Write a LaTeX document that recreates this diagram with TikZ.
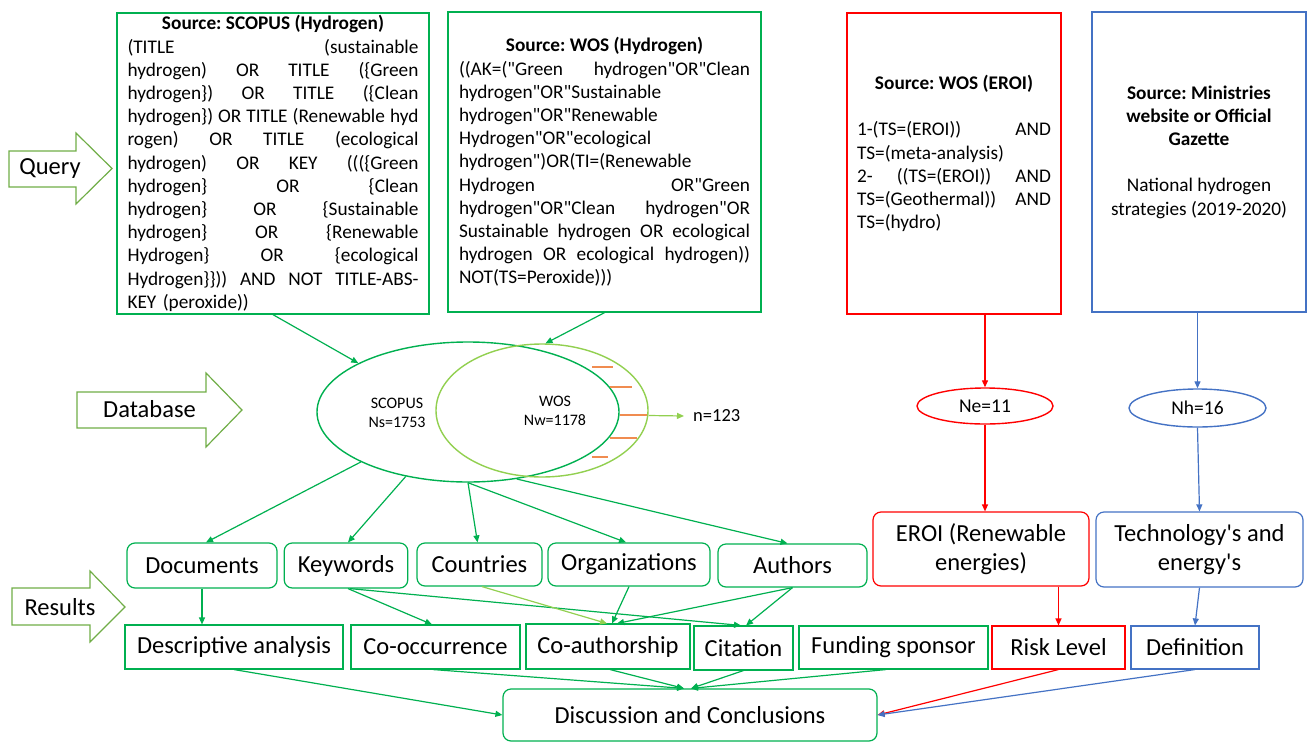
\documentclass[tikz,border=0pt]{standalone}
\usepackage{fontspec}
\setmainfont{Carlito}[Ligatures=TeXOff]
\usetikzlibrary{shapes.geometric,arrows.meta,calc}
\definecolor{gline}{RGB}{0,176,80}
\definecolor{lgreen}{RGB}{146,208,80}
\definecolor{agreen}{RGB}{112,173,71}
\definecolor{rline}{RGB}{255,0,0}
\definecolor{bline}{RGB}{68,114,196}
\definecolor{orng}{RGB}{240,140,80}
\newcommand\jl[1]{{\spaceskip=0pt\xspaceskip=0pt\makebox[\linewidth][s]{#1}}\\}
\newcommand\ctr[1]{{\spaceskip=0pt\xspaceskip=0pt\makebox[\linewidth]{#1}}\\}
\frenchspacing
\begin{document}
\begin{tikzpicture}[x=1pt,y=-1pt,
  body/.style={font=\fontsize{19.3}{23.2}\selectfont},
  lab/.style={font=\fontsize{24.5}{29.5}\selectfont},
  qbox/.style={draw=#1, line width=1.3pt, inner sep=0pt, body},
  gbox/.style={draw=gline, line width=1.2pt, rounded corners=8pt, inner sep=0pt, lab},
  gsq/.style={draw=gline, line width=1.1pt, inner sep=0pt, lab},
  ell/.style={ellipse, draw=#1, line width=1.4pt, inner sep=0pt},
  tipx/.style={-{Triangle[length=7pt,width=6pt]}},
  garr/.style={draw=gline, line width=1.2pt, tipx},
  larr/.style={draw=lgreen, line width=1.2pt, tipx},
  rarr/.style={draw=rline, line width=1.2pt, tipx},
  barr/.style={draw=bline, line width=1.2pt, tipx},
  blk/.style={draw=agreen, line width=1.2pt, line join=miter}
]
\useasboundingbox (0,0) rectangle (1307,742);

% ---- block arrows
\draw[blk] (9,151) -- (76,151) -- (76,133) -- (112,168.5) -- (76,204) -- (76,187) -- (9,187) -- cycle;
\node[lab] (qlab) at (50,169) {Query};
\draw[blk] (77,392) -- (206,392) -- (206,373) -- (242,410) -- (206,447) -- (206,428) -- (77,428) -- cycle;
\node[lab] (dlab) at (149.5,409) {Database};
\draw[blk] (12,588) -- (90,588) -- (90,571) -- (125,607) -- (90,642) -- (90,625) -- (12,625) -- cycle;
\node[lab] (rlab) at (60,607) {Results};

% ---- query boxes
\node[qbox=gline, minimum width=312, minimum height=301, text width=291pt] (scopq) at (273,163.5) {%
\ctr{\textbf{Source: SCOPUS (Hydrogen)}}
\jl{(TITLE (sustainable}
\jl{hydrogen) OR TITLE (\{Green}
\jl{hydrogen\}) OR TITLE (\{Clean}
\jl{hydrogen\}) OR TITLE (Renewable hyd}
\jl{rogen) OR TITLE (ecological}
\jl{hydrogen) OR KEY (((\{Green}
\jl{hydrogen\} OR \{Clean}
\jl{hydrogen\} OR \{Sustainable}
\jl{hydrogen\} OR \{Renewable}
\jl{Hydrogen\} OR \{ecological}
\jl{Hydrogen\}\})) AND NOT TITLE-ABS-}
KEY (peroxide))};

\node[qbox=gline, minimum width=313, minimum height=300, text width=291pt] (wosq) at (604.5,162) {%
\ctr{\textbf{Source: WOS (Hydrogen)}}
\jl{((AK=("Green hydrogen"OR"Clean}
hydrogen"OR"Sustainable\\
hydrogen"OR"Renewable\\
Hydrogen"OR"ecological\\
hydrogen")OR(TI=(Renewable\\
\jl{Hydrogen OR"Green}
\jl{hydrogen"OR"Clean hydrogen"OR}
\jl{Sustainable hydrogen OR ecological}
\jl{hydrogen OR ecological hydrogen))}
NOT(TS=Peroxide)))};

\node[qbox=rline, minimum width=214, minimum height=301, text width=194pt] (eroiq) at (954,163.5) {%
\ctr{\textbf{Source: WOS (EROI)}}
\mbox{}\\
\jl{1-(TS=(EROI)) AND}
TS=(meta-analysis)\\
\jl{2- ((TS=(EROI)) AND}
\jl{TS=(Geothermal)) AND}
TS=(hydro)\\
\mbox{}};

\node[qbox=bline, minimum width=214, minimum height=300, text width=210pt] (minq) at (1199,162) {%
\ctr{\textbf{Source: Ministries}}
\ctr{\textbf{website or Official}}
\ctr{\textbf{Gazette}}
\mbox{}\\
\ctr{National hydrogen}
\ctr{strategies (2019-2020)}
\mbox{}};

% ---- ellipses
\node[ell=gline, minimum width=302, minimum height=140] (scopE) at (468,412) {};
\node[ell=lgreen, minimum width=212, minimum height=133] (wosE) at (542,410.5) {};
\node[align=center, font=\fontsize{16}{19}\selectfont] (scopT) at (397,412.5) {SCOPUS\\Ns=1753};
\node[align=center, font=\fontsize{16}{19}\selectfont] (wosT) at (555,411) {WOS\\Nw=1178};
\node[anchor=west, inner sep=0pt, font=\fontsize{18.5}{22}\selectfont] (nT) at (693,416) {n=123};
\node[ell=rline, minimum width=136, minimum height=36, font=\fontsize{19.5}{22}\selectfont] (neE) at (985,406) {Ne=11};
\node[ell=bline, minimum width=137, minimum height=38, font=\fontsize{19.5}{22}\selectfont] (nhE) at (1197.5,408) {Nh=16};

% hatch marks
\draw[orng, line width=1.8pt] (592,367) -- (613,367);
\draw[orng, line width=1.8pt] (610,387) -- (632,387);
\draw[orng, line width=1.8pt] (620,415) -- (647,415);
\draw[orng, line width=1.8pt] (610,438) -- (637,438);
\draw[orng, line width=1.8pt] (592,457) -- (608,457);

% ---- row 1
\node[gbox, minimum width=150, minimum height=45] (docs) at (202,565.5) {Documents};
\node[gbox, minimum width=123.5, minimum height=45] (keyw) at (346,565.5) {Keywords};
\node[gbox, minimum width=125, minimum height=43] (ctry) at (479.5,564.5) {Countries};
\node[gbox, minimum width=162, minimum height=43] (orgs) at (629,564.5) {Organizations};
\node[gbox, minimum width=149, minimum height=43] (auth) at (792.5,565.5) {Authors};
\node[gbox, draw=rline, minimum width=216, minimum height=74, align=center] (eroiR) at (981,549) {EROI (Renewable\\energies)};
\node[gbox, draw=bline, minimum width=207, minimum height=75, align=center] (tech) at (1199.5,549.5) {Technology's and\\energy's};

% ---- row 2
\node[gsq, minimum width=218, minimum height=44] (desc) at (234,647) {Descriptive analysis};
\node[gsq, minimum width=169, minimum height=44] (cooc) at (435.5,647) {Co-occurrence};
\node[gsq, minimum width=164, minimum height=45] (coau) at (608,646.5) {Co-authorship};
\node[gsq, minimum width=99, minimum height=44] (cita) at (743.5,648) {Citation};
\node[gsq, minimum width=189, minimum height=43] (fund) at (893.5,647.5) {Funding sponsor};
\node[gsq, draw=rline, minimum width=133, minimum height=43] (risk) at (1058.5,647.5) {Risk Level};
\node[gsq, draw=bline, minimum width=128, minimum height=43] (defi) at (1195,647.5) {Definition};

\node[gbox, minimum width=374, minimum height=52] (disc) at (690,715) {Discussion and Conclusions};

% ---- connectors
\draw[garr] (scopq.south) -- (scopE.156);
\draw[garr] (wosq.south) -- (wosE.87);
\draw[larr] ([yshift=-5pt]wosE.east) -- ([xshift=-9pt]nT.west);

\draw[garr] (scopE.205) -- ([xshift=4pt]docs.north);
\draw[garr] (scopE.226) -- ([xshift=2pt]keyw.north);
\draw[garr] (scopE.south) -- ([xshift=-2pt]ctry.north);
\draw[garr] (scopE.south) -- ([xshift=-3pt]orgs.north);
\draw[garr] (scopE.-54) -- ([xshift=-5pt]auth.north);

\draw[rarr] (eroiq.south -| neE.north) -- (neE.north);
\draw[barr] (minq.south -| nhE.north) -- (nhE.north);
\draw[rarr] (neE.south) -- (neE.south |- eroiR.north);
\draw[barr] (nhE.south) -- (tech.north);
\draw[rarr] (risk.north |- eroiR.south) -- (risk.north);
\draw[barr] (tech.south) -- (defi.north);

\draw[garr] (docs.south) -- (docs.south |- desc.north);
\draw[garr] ([xshift=2pt]keyw.south) -- ([xshift=-3.5pt]cooc.north);
\draw[garr] ([xshift=4pt]keyw.south) -- ([xshift=-2.5pt]cita.north);
\draw[larr] ([xshift=2.5pt]ctry.south) -- ([xshift=-1pt]coau.north);
\draw[garr] (orgs.south) -- ([xshift=4pt]coau.north);
\draw[garr] (auth.south) -- ([xshift=9pt]coau.north);
\draw[garr] (auth.south) -- ([xshift=2.5pt]cita.north);

\draw[garr] (desc.south) -- (disc.west);
\draw[garr] ([xshift=-2.5pt]cooc.south) -- ([xshift=-6pt]disc.north);
\draw[garr] ([xshift=2pt]coau.south) -- ([xshift=-6pt]disc.north);
\draw[garr] (cita.south) -- ([xshift=1pt]disc.north);
\draw[garr] ([xshift=-7.5pt]fund.south) -- ([xshift=1pt]disc.north);
\draw[rarr] (risk.south) -- (disc.east);
\draw[barr] (defi.south) -- (disc.east);
\end{tikzpicture}
\end{document}
